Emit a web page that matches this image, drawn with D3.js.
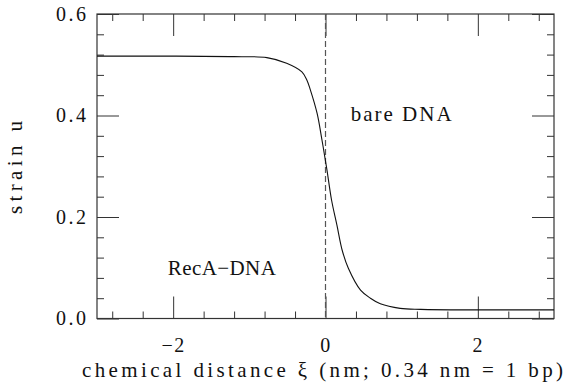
<!DOCTYPE html>
<html>
<head>
<meta charset="utf-8">
<script src="https://d3js.org/d3.v7.min.js"></script>
<style>
    body { margin: 0; background: #fff; }
    .tick text { font-family: 'Liberation Serif', serif; font-size: 20px; fill: #111; }
    .label { font-family: 'Liberation Serif', serif; font-size: 21px; fill: #111; }
</style>
</head>
<body>
<svg width="569" height="390"></svg>
<script>
// profile
var xi = [-3, -2, -1.2, -0.77, -0.51, -0.31, -0.245, -0.2, -0.11, -0.05, 0, 0.02, 0.08, 0.15, 0.22, 0.3, 0.46, 0.59, 0.72, 0.98, 1.25, 2, 3];
var strain = [0.517, 0.517, 0.516, 0.514, 0.503, 0.486, 0.47, 0.451, 0.404, 0.355, 0.31, 0.292, 0.233, 0.184, 0.134, 0.099, 0.056, 0.04, 0.029, 0.02, 0.018, 0.017, 0.017];

var xMajor = [-2, 0, 2];
var xMinor = [-2.8, -2.4, -1.6, -1.2, -0.8, -0.4, 0.4, 0.8, 1.2, 1.6, 2.4, 2.8];
var yMajor = [0, 0.2, 0.4, 0.6];
var yMinor = [0.04, 0.08, 0.12, 0.16, 0.24, 0.28, 0.32, 0.36, 0.44, 0.48, 0.52, 0.56];

var svg = d3.select("svg"),
    margin = {top: 14, right: 15, bottom: 71.5, left: 97},
    width = 569 - margin.left - margin.right,
    height = 390 - margin.top - margin.bottom;

var x = d3.scaleLinear().domain([-3, 3]).range([0, width]);
var y = d3.scaleLinear().domain([0, 0.6]).range([height, 0]);

var g = svg.append("g")
    .attr("transform", "translate(" + margin.left + "," + margin.top + ")");

var axisColor = "#333";

function styleAxis(sel) {
    sel.attr("font-family", "Liberation Serif").attr("font-size", 20);
    sel.select(".domain").remove();
    sel.selectAll(".tick line").attr("stroke", axisColor);
}

// bottom
g.append("g").attr("transform", "translate(0," + height + ")")
    .call(d3.axisBottom(x).tickValues(xMajor).tickSize(-22).tickPadding(19)
        .tickFormat(function (d) { return d === 0 ? "0" : (d < 0 ? "\u2212" + (-d) : d); }))
    .call(styleAxis)
    .selectAll(".tick text").attr("letter-spacing", 1.5);
g.append("g").attr("transform", "translate(0," + height + ")")
    .call(d3.axisBottom(x).tickValues(xMinor).tickSize(-7).tickFormat(""))
    .call(styleAxis);
// top
g.append("g")
    .call(d3.axisTop(x).tickValues(xMajor).tickSize(-22).tickFormat(""))
    .call(styleAxis);
g.append("g")
    .call(d3.axisTop(x).tickValues(xMinor).tickSize(-7).tickFormat(""))
    .call(styleAxis);
// left
g.append("g")
    .call(d3.axisLeft(y).tickValues(yMajor).tickSize(-22).tickPadding(11)
        .tickFormat(d3.format(".1f")))
    .call(styleAxis)
    .selectAll(".tick text").attr("textLength", 30).attr("lengthAdjust", "spacing");
g.append("g")
    .call(d3.axisLeft(y).tickValues(yMinor).tickSize(-7).tickFormat(""))
    .call(styleAxis);
// right
g.append("g").attr("transform", "translate(" + width + ",0)")
    .call(d3.axisRight(y).tickValues(yMajor).tickSize(-22).tickFormat(""))
    .call(styleAxis);
g.append("g").attr("transform", "translate(" + width + ",0)")
    .call(d3.axisRight(y).tickValues(yMinor).tickSize(-7).tickFormat(""))
    .call(styleAxis);

// frame
g.append("rect")
    .attr("x", 0).attr("y", 0)
    .attr("width", width).attr("height", height)
    .attr("fill", "none")
    .attr("stroke", axisColor)
    .attr("stroke-width", 1.2);

// dashed line at xi = 0
g.append("line")
    .attr("x1", x(0)).attr("x2", x(0))
    .attr("y1", 0).attr("y2", height)
    .attr("stroke", "#555")
    .attr("stroke-width", 1.2)
    .attr("stroke-dasharray", "6,3");

// curve
var line = d3.line()
    .x(function (d, i) { return x(xi[i]); })
    .y(function (d) { return y(d); })
    .curve(d3.curveCatmullRom);

g.append("path")
    .datum(strain)
    .attr("d", line)
    .attr("fill", "none")
    .attr("stroke", "#111")
    .attr("stroke-width", 1.1);

// labels
g.append("text").attr("class", "label")
    .attr("x", x(-2.07)).attr("y", y(0.085))
    .attr("textLength", 108).attr("lengthAdjust", "spacing")
    .text("RecA\u2212DNA");

g.append("text").attr("class", "label")
    .attr("x", x(0.33)).attr("y", y(0.39))
    .attr("textLength", 101).attr("lengthAdjust", "spacing")
    .text("bare DNA");

svg.append("text").attr("class", "label")
    .attr("x", 82).attr("y", 377)
    .attr("textLength", 481).attr("lengthAdjust", "spacing")
    .text("chemical distance \u03be (nm; 0.34 nm = 1 bp)");

svg.append("text").attr("class", "label")
    .attr("transform", "translate(22,214)rotate(-90)")
    .attr("textLength", 93).attr("lengthAdjust", "spacing")
    .text("strain u");
</script>
</body>
</html>
